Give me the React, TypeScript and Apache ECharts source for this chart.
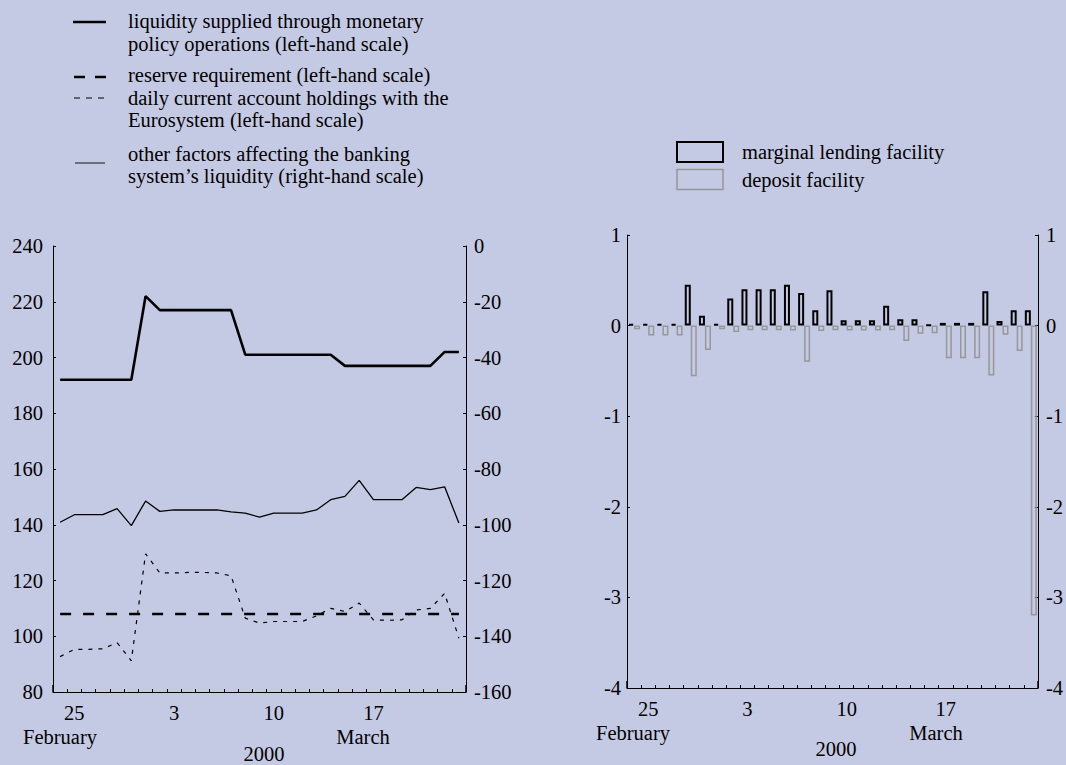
import React, { useEffect, useRef } from "react";
import * as echarts from "echarts";

// ---- data ----
const dates = [
  "24 Feb", "25 Feb", "26 Feb", "27 Feb", "28 Feb", "29 Feb",
  "1 Mar", "2 Mar", "3 Mar", "4 Mar", "5 Mar", "6 Mar", "7 Mar", "8 Mar",
  "9 Mar", "10 Mar", "11 Mar", "12 Mar", "13 Mar", "14 Mar", "15 Mar",
  "16 Mar", "17 Mar", "18 Mar", "19 Mar", "20 Mar", "21 Mar", "22 Mar", "23 Mar",
];
const labelledDays = ["25 Feb", "3 Mar", "10 Mar", "17 Mar"];
const monthStartIndex = 6; // 1 March
const monthNames = ["February", "March"];
const yearLabel = "2000";

// left-hand scale (EUR billions)
const liquiditySupplied = [
  192, 192, 192, 192, 192, 192, 222, 217, 217, 217, 217, 217, 217, 201, 201,
  201, 201, 201, 201, 201, 197, 197, 197, 197, 197, 197, 197, 202, 202,
];
const reserveRequirement = [
  108, 108, 108, 108, 108, 108, 108, 108, 108, 108, 108, 108, 108, 108, 108,
  108, 108, 108, 108, 108, 108, 108, 108, 108, 108, 108, 108, 108, 108,
];
const currentAccounts = [
  92.7, 95.3, 95.3, 95.5, 97.7, 91.2, 129.6, 122.7, 122.7, 122.9, 122.9, 122.7,
  121.7, 106.5, 104.7, 105.3, 105.3, 105.3, 107.3, 110.0, 108.9, 111.9, 105.9,
  105.7, 105.9, 109.4, 110.0, 115.4, 99.3,
];
// right-hand scale
const otherFactors = [
  -99.1, -96.4, -96.4, -96.4, -94.2, -100.3, -91.5, -95.2, -94.7, -94.7, -94.7,
  -94.7, -95.4, -95.8, -97.3, -95.8, -95.8, -95.8, -94.7, -91.0, -89.8, -84.1,
  -91.0, -91.0, -91.0, -86.6, -87.4, -86.4, -99.4,
];

// standing facilities
const marginalLending = [
  0.02, 0.02, 0.02, 0.02, 0.45, 0.11, 0.02, 0.3, 0.4, 0.4, 0.4, 0.45, 0.36,
  0.17, 0.39, 0.06, 0.06, 0.06, 0.22, 0.07, 0.07, 0.01, 0.03, 0.03, 0.03, 0.38,
  0.05, 0.17, 0.17,
];
const depositFacility = [
  -0.04, -0.11, -0.11, -0.11, -0.56, -0.27, -0.04, -0.07, -0.05, -0.05, -0.05,
  -0.055, -0.4, -0.06, -0.05, -0.055, -0.055, -0.055, -0.05, -0.17, -0.09,
  -0.085, -0.36, -0.36, -0.36, -0.55, -0.1, -0.28, -3.2,
];

const seriesNames = [
  "liquidity supplied through monetary\npolicy operations (left-hand scale)",
  "reserve requirement (left-hand scale)",
  "daily current account holdings with the\nEurosystem (left-hand scale)",
  "other factors affecting the banking\nsystem\u2019s liquidity (right-hand scale)",
  "marginal lending facility",
  "deposit facility",
];

const FONT = "Liberation Serif, DejaVu Serif, serif";
const BG = "#c5cae4";
const FS = 20.5;

export default function App() {
  const ref = useRef<HTMLDivElement>(null);

  useEffect(() => {
    document.body.style.margin = "0";
    if (!ref.current) return;
    const chart = echarts.init(ref.current, null, { renderer: "svg" });

    const dayFormatter = (v: string) =>
      labelledDays.includes(v) ? v.split(" ")[0] : "";

    const catAxis = (gridIndex: number) => ({
      gridIndex,
      type: "category",
      data: dates,
      boundaryGap: true,
      position: "bottom",
      axisLine: { show: true, onZero: false, lineStyle: { color: "#000", width: 1 } },
      axisTick: {
        show: true,
        inside: true,
        length: 3,
        interval: 0,
        lineStyle: { color: "#000", width: 1 },
      },
      axisLabel: {
        interval: 0,
        formatter: dayFormatter,
        color: "#000",
        fontFamily: FONT,
        fontSize: FS,
        margin: 10,
      },
      splitLine: { show: false },
    });
    const monthTickAxis = (gridIndex: number) => ({
      gridIndex,
      type: "category",
      data: dates,
      boundaryGap: true,
      position: "bottom",
      axisLine: { show: false, onZero: false },
      axisTick: {
        show: true,
        inside: true,
        length: 7,
        interval: (i: number) => i === monthStartIndex,
        lineStyle: { color: "#000", width: 1.5 },
      },
      axisLabel: { show: false },
      splitLine: { show: false },
    });
    const valAxis = (
      gridIndex: number,
      position: string,
      min: number,
      max: number,
      interval: number,
      margin: number
    ) => ({
      gridIndex,
      type: "value",
      position,
      min,
      max,
      interval,
      axisLine: { show: true, onZero: false, lineStyle: { color: "#000", width: 1 } },
      axisTick: { show: true, inside: true, length: 3, lineStyle: { color: "#000" } },
      axisLabel: { color: "#000", fontFamily: FONT, fontSize: FS, margin },
      splitLine: { show: false },
    });

    const txt = (
      text: string,
      x: number,
      y: number,
      align: string = "left"
    ) => ({
      type: "text",
      x,
      y,
      style: {
        text,
        fill: "#000",
        fontFamily: FONT,
        fontSize: FS,
        textAlign: align,
        textVerticalAlign: "middle",
      },
    });
    const ln = (
      x1: number,
      x2: number,
      y: number,
      width: number,
      dash: number[] | null,
      color = "#000"
    ) => ({
      type: "line",
      shape: { x1, y1: y, x2, y2: y },
      style: { stroke: color, lineWidth: width, lineDash: dash || undefined },
    });

    const [n1a, n1b] = seriesNames[0].split("\n");
    const [n3a, n3b] = seriesNames[2].split("\n");
    const [n4a, n4b] = seriesNames[3].split("\n");

    chart.setOption({
      animation: false,
      backgroundColor: BG,
      grid: [
        { left: 53, right: 600, top: 246, bottom: 73 },
        { left: 627, right: 27, top: 235, bottom: 77 },
      ],
      xAxis: [catAxis(0), monthTickAxis(0), catAxis(1), monthTickAxis(1)],
      yAxis: [
        valAxis(0, "left", 80, 240, 20, 10),
        valAxis(0, "right", -160, 0, 20, 8),
        valAxis(1, "left", -4, 1, 1, 6),
        valAxis(1, "right", -4, 1, 1, 8),
      ],
      series: [
        {
          name: seriesNames[0],
          type: "line",
          xAxisIndex: 0,
          yAxisIndex: 0,
          data: liquiditySupplied,
          symbol: "none",
          lineStyle: { color: "#000", width: 2.6 },
        },
        {
          name: seriesNames[1],
          type: "line",
          xAxisIndex: 0,
          yAxisIndex: 0,
          data: reserveRequirement,
          symbol: "none",
          lineStyle: { color: "#000", width: 2.6, type: [11, 12] },
        },
        {
          name: seriesNames[2],
          type: "line",
          xAxisIndex: 0,
          yAxisIndex: 0,
          data: currentAccounts,
          symbol: "none",
          lineStyle: { color: "#000", width: 1.2, type: [4, 6] },
        },
        {
          name: seriesNames[3],
          type: "line",
          xAxisIndex: 0,
          yAxisIndex: 1,
          data: otherFactors,
          symbol: "none",
          lineStyle: { color: "#000", width: 1.3 },
        },
        {
          name: seriesNames[4],
          type: "bar",
          xAxisIndex: 2,
          yAxisIndex: 2,
          data: marginalLending,
          barWidth: 6,
          barGap: "0%",
          itemStyle: { color: "rgba(0,0,0,0)", borderColor: "#000", borderWidth: 2 },
        },
        {
          name: seriesNames[5],
          type: "bar",
          xAxisIndex: 2,
          yAxisIndex: 2,
          data: depositFacility,
          barWidth: 6,
          barGap: "0%",
          itemStyle: { color: "rgba(0,0,0,0)", borderColor: "#979797", borderWidth: 1.5 },
        },
      ],
      graphic: [
        // left legend
        ln(73, 106, 22, 2.6, null),
        txt(n1a, 128, 21),
        txt(n1b, 128, 43.5),
        ln(74, 106, 77, 2.6, [11, 10]),
        txt(seriesNames[1], 128, 75),
        ln(74, 106, 98, 1.2, [6, 6]),
        txt(n3a, 128, 97.5),
        txt(n3b, 128, 120),
        ln(75, 105, 163, 1.2, null, "#333"),
        txt(n4a, 128, 153.5),
        txt(n4b, 128, 176),
        // right legend
        {
          type: "rect",
          shape: { x: 677, y: 142, width: 46, height: 20 },
          style: { fill: "rgba(0,0,0,0)", stroke: "#000", lineWidth: 2 },
        },
        {
          type: "rect",
          shape: { x: 677, y: 169.5, width: 46, height: 20 },
          style: { fill: "rgba(0,0,0,0)", stroke: "#979797", lineWidth: 1.5 },
        },
        txt(seriesNames[4], 742, 152),
        txt(seriesNames[5], 742, 180),
        // month / year labels
        txt(monthNames[0], 60, 737, "center"),
        txt(monthNames[1], 363, 737, "center"),
        txt(yearLabel, 264, 754, "center"),
        txt(monthNames[0], 633, 733, "center"),
        txt(monthNames[1], 936, 733, "center"),
        txt(yearLabel, 836, 749, "center"),
      ],
    });

    return () => chart.dispose();
  }, []);

  return (
    <div
      ref={ref}
      style={{ width: 1066, height: 765, background: BG }}
    />
  );
}
